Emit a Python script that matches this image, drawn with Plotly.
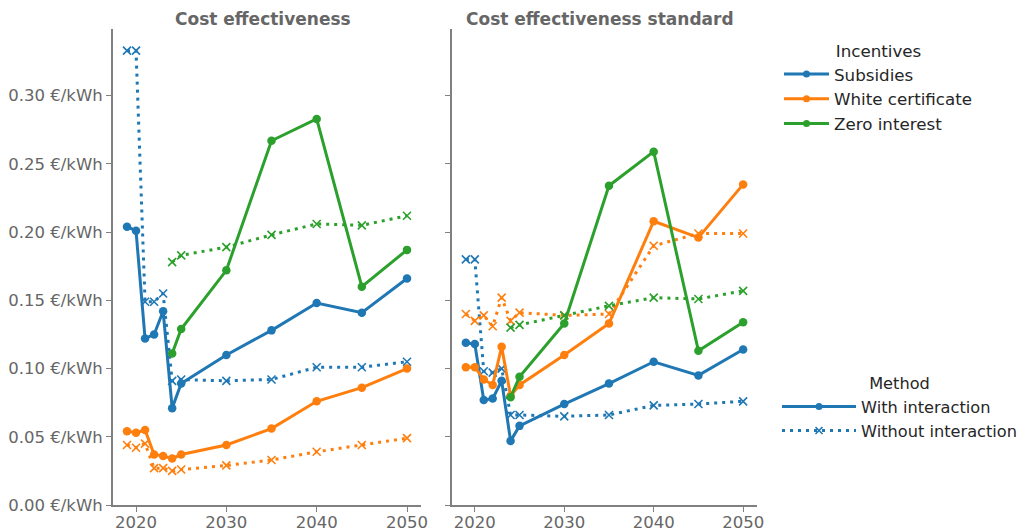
import plotly.graph_objects as go

years = [2019, 2020, 2021, 2022, 2023, 2024, 2025, 2030, 2035, 2040, 2045, 2050]

# Panel 1: Cost effectiveness
ce_sub_with = [0.204, 0.201, 0.122, 0.125, 0.142, 0.071, 0.089, 0.110, 0.128, 0.148, 0.141, 0.166]
ce_sub_without = [0.333, 0.333, 0.149, 0.149, 0.155, 0.091, 0.092, 0.091, 0.092, 0.101, 0.101, 0.105]
ce_wc_with = [0.054, 0.053, 0.055, 0.037, 0.036, 0.034, 0.037, 0.044, 0.056, 0.076, 0.086, 0.100]
ce_wc_without = [0.044, 0.042, 0.045, 0.027, 0.027, 0.025, 0.026, 0.029, 0.033, 0.039, 0.044, 0.049]
ce_zi_with = [None, None, None, None, None, 0.111, 0.129, 0.172, 0.267, 0.283, 0.160, 0.187]
ce_zi_without = [None, None, None, None, None, 0.178, 0.183, 0.189, 0.198, 0.206, 0.205, 0.212]

# Panel 2: Cost effectiveness standard
cs_sub_with = [0.119, 0.118, 0.077, 0.078, 0.091, 0.047, 0.058, 0.074, 0.089, 0.105, 0.095, 0.114]
cs_sub_without = [0.180, 0.180, 0.098, 0.097, 0.100, 0.066, 0.066, 0.065, 0.066, 0.073, 0.074, 0.076]
cs_wc_with = [0.101, 0.101, 0.092, 0.088, 0.116, 0.080, 0.088, 0.110, 0.133, 0.208, 0.196, 0.235]
cs_wc_without = [0.140, 0.135, 0.139, 0.131, 0.152, 0.135, 0.141, 0.139, 0.140, 0.190, 0.199, 0.199]
cs_zi_with = [None, None, None, None, None, 0.079, 0.094, 0.133, 0.234, 0.259, 0.113, 0.134]
cs_zi_without = [None, None, None, None, None, 0.130, 0.132, 0.139, 0.146, 0.152, 0.151, 0.157]

incentives = ["Subsidies", "White certificate", "Zero interest"]
methods = ["With interaction", "Without interaction"]
panel_titles = ["Cost effectiveness", "Cost effectiveness standard"]
y_ticks = [0.00, 0.05, 0.10, 0.15, 0.20, 0.25, 0.30]
y_tick_labels = [f"{v:.2f} €/kWh" for v in y_ticks]
x_ticks = [2020, 2030, 2040, 2050]

colors = ["#1f77b4", "#ff7f0e", "#2ca02c"]
FONT = "DejaVu Sans"
GRAY = "#666666"
SPINE = "#808080"
DARK = "#262626"

panels = [
    ([ce_sub_with, ce_wc_with, ce_zi_with], [ce_sub_without, ce_wc_without, ce_zi_without]),
    ([cs_sub_with, cs_wc_with, cs_zi_with], [cs_sub_without, cs_wc_without, cs_zi_without]),
]

fig = go.Figure()

for p, (with_list, without_list) in enumerate(panels):
    xa = "x" if p == 0 else "x2"
    ya = "y" if p == 0 else "y2"
    for i, name in enumerate(incentives):
        fig.add_trace(go.Scatter(
            x=years, y=without_list[i], xaxis=xa, yaxis=ya, mode="lines+markers",
            line=dict(color=colors[i], width=3, dash="3px,5px"),
            marker=dict(symbol="x-thin", size=8, line=dict(width=1.6, color=colors[i]), color=colors[i]),
            connectgaps=False, showlegend=False, hoverinfo="skip"))
        fig.add_trace(go.Scatter(
            x=years, y=with_list[i], xaxis=xa, yaxis=ya, mode="lines+markers",
            line=dict(color=colors[i], width=3),
            marker=dict(symbol="circle", size=8.5, color=colors[i]),
            connectgaps=False, showlegend=False, hoverinfo="skip"))

# Legend entries
for i, name in enumerate(incentives):
    fig.add_trace(go.Scatter(
        x=[None], y=[None], mode="lines+markers", name=name,
        line=dict(color=colors[i], width=3),
        marker=dict(symbol="circle", size=7, color=colors[i]),
        legend="legend"))
fig.add_trace(go.Scatter(
    x=[None], y=[None], mode="lines+markers", name=methods[0],
    line=dict(color=colors[0], width=3),
    marker=dict(symbol="circle", size=7, color=colors[0]),
    legend="legend2"))
fig.add_trace(go.Scatter(
    x=[None], y=[None], mode="lines+markers", name=methods[1],
    line=dict(color=colors[0], width=3, dash="3px,5px"),
    marker=dict(symbol="x-thin", size=7, line=dict(width=1.6, color=colors[0]), color=colors[0]),
    legend="legend2"))

# The page body adds an 8px offset; size the figure to fit the window.
W, H = 1023, 524
T, B = 21, 27
PH = H - T - B
x_range = [2017.45, 2051.55]
y_range = [0, 0.3489]

common_x = dict(range=x_range, tickvals=x_ticks, showgrid=False, zeroline=False,
                showline=True, linecolor=SPINE, linewidth=2, ticks="outside", ticklen=5,
                tickcolor=SPINE, tickwidth=1.3, tickfont=dict(family=FONT, size=16.5, color=GRAY),
                ticklabelstandoff=-4, automargin=False)
common_y = dict(range=y_range, tickvals=y_ticks, showgrid=False, zeroline=False,
                showline=True, linecolor=SPINE, linewidth=2, ticks="outside", ticklen=5,
                tickcolor=SPINE, tickwidth=1.3, tickfont=dict(family=FONT, size=16.5, color=GRAY),
                automargin=False)

legend_font = dict(family=FONT, size=16.7, color=DARK)
legend2_font = dict(family=FONT, size=16.2, color=DARK)

fig.update_layout(
    width=W, height=H,
    margin=dict(l=0, r=0, t=T, b=B),
    paper_bgcolor="white", plot_bgcolor="white",
    font=dict(family=FONT, size=15, color=DARK),
    xaxis=dict(domain=[105 / W, 413 / W], anchor="y", **common_x),
    yaxis=dict(domain=[0, 1], anchor="x", ticktext=y_tick_labels, **common_y),
    xaxis2=dict(domain=[444 / W, 749 / W], anchor="y2", **common_x),
    yaxis2=dict(domain=[0, 1], anchor="x2", showticklabels=False, **common_y),
    legend=dict(title=dict(text="Incentives", side="top center", font=legend_font),
                x=771 / W, xanchor="left", y=1 - 6 / PH, yanchor="top",
                font=legend_font, bgcolor="rgba(0,0,0,0)", itemwidth=45,
                tracegroupgap=0),
    legend2=dict(title=dict(text="Method", side="top center", font=legend2_font),
                 x=769 / W, xanchor="left", y=1 - 339.4 / PH, yanchor="top",
                 font=legend2_font, bgcolor="rgba(0,0,0,0)", itemwidth=74,
                 tracegroupgap=1),
    annotations=[
        dict(text="<b>" + panel_titles[0] + "</b>", x=255 / W, y=1 + 10 / PH,
             xref="paper", yref="paper", showarrow=False, xanchor="center", yanchor="middle",
             borderpad=0, font=dict(family=FONT, size=17, color=GRAY)),
        dict(text="<b>" + panel_titles[1] + "</b>", x=592 / W, y=1 + 10 / PH,
             xref="paper", yref="paper", showarrow=False, xanchor="center", yanchor="middle",
             borderpad=0, font=dict(family=FONT, size=17, color=GRAY)),
    ],
)

fig.write_html("out.html")
